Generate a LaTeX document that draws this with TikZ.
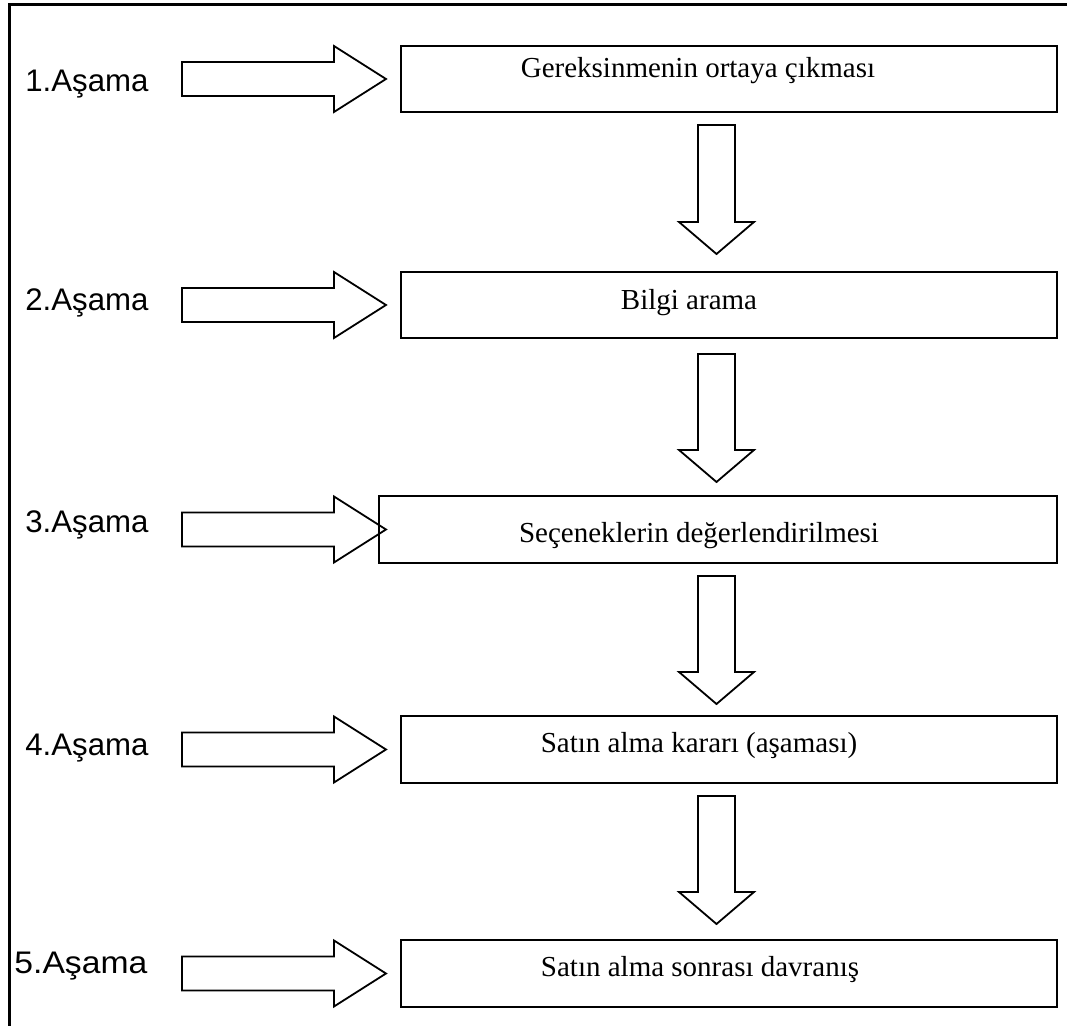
\documentclass[tikz,border=0pt]{standalone}
\usepackage{fontspec}
\setmainfont{Liberation Serif}
\newfontfamily\stagefont{Liberation Sans}
\usepackage{tikz}
\usetikzlibrary{positioning}
\usepackage{xcolor}
\definecolor{dfline}{RGB}{0,0,0}
\tikzstyle{frame} = [line width=1.5pt, color=dfline]
\tikzstyle{stagebox} = [draw=dfline, line width=1pt, minimum width=328pt, minimum height=33pt, inner sep=0pt]
\tikzstyle{boxtext} = [anchor=base, inner sep=0pt, font=\fontsize{14.5}{17}\selectfont]
\tikzstyle{stagelabel} = [anchor=base west, inner sep=0pt, font=\stagefont\fontsize{15.6}{18}\selectfont]
\tikzstyle{blockarrow} = [draw=dfline, line width=0.9pt, line join=miter]

\begin{document}
\begin{tikzpicture}[x=0.5pt, y=-0.5pt]
\useasboundingbox (0,0) rectangle (1067,1026);
% Outer frame
\draw[frame] (9,1026) -- (9,5) -- (1067,5);

% Stage boxes
\node[stagebox] (b1) at (729,79) {};
\node[stagebox] (b2) at (729,305) {};
\node[stagebox, minimum width=339pt, minimum height=33.5pt] (b3) at (718,529.5) {};
\node[stagebox, minimum height=33.5pt] (b4) at (729,749.5) {};
\node[stagebox, minimum height=33.5pt] (b5) at (729,973.5) {};

% Box texts
\node[boxtext] (t1) at (698,78) {Gereksinmenin ortaya çıkması};
\node[boxtext] (t2) at (689,310) {Bilgi arama};
\node[boxtext] (t3) at (699,543) {Seçeneklerin değerlendirilmesi};
\node[boxtext] (t4) at (699,753) {Satın alma kararı (aşaması)};
\node[boxtext] (t5) at (700,976) {Satın alma sonrası davranış};

% Stage labels
\node[stagelabel] (l1) at (25,92) {1.Aşama};
\node[stagelabel] (l2) at (25,311) {2.Aşama};
\node[stagelabel] (l3) at (25,533) {3.Aşama};
\node[stagelabel] (l4) at (25,755) {4.Aşama};
\node[stagelabel] (l5) at (14,973) {\scalebox{1.08}[1]{5.Aşama}};

% Arrows into the boxes
\foreach \y in {79,305,529.5,749.5,973.5}
  \draw[blockarrow] (182,\y-17) -- ++(152,0) -- ++(0,-16) -- ++(52,33)
    -- ++(-52,33) -- ++(0,-16) -- ++(-152,0) -- cycle;

% Arrows between the stages
\foreach \t/\l in {125/97,354/96,576/96,796/96}
  \draw[blockarrow] (698,\t) -- ++(0,\l) -- ++(-19,0) -- ++(37.5,32)
    -- ++(37.5,-32) -- ++(-19,0) -- ++(0,-\l) -- cycle;
\end{tikzpicture}
\end{document}
